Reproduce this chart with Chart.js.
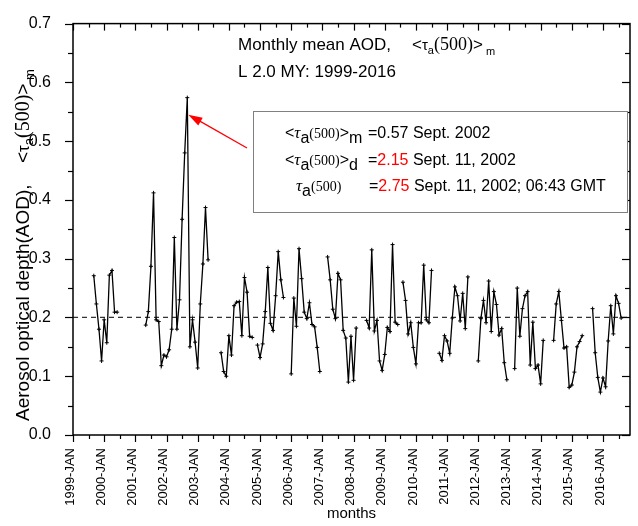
<!DOCTYPE html>
<html>
<head>
<meta charset="utf-8">
<script src="https://cdn.jsdelivr.net/npm/chart.js@4.4.0/dist/chart.umd.min.js"></script>
<style>
  html, body { margin: 0; padding: 0; background: #fff; }
</style>
</head>
<body>
<canvas id="chart1" width="638" height="526"></canvas>
<script>
// Monthly mean AOD, index 0 = 1999-JAN (null = no data that month)
const monthlyAod = [
  null, null, null, null, null, null, null, null, 0.271, 0.223, 0.180, 0.126, // 1999
  0.196, 0.157, 0.272, 0.280, 0.209, 0.209, null, null, null, null, null, null, // 2000
  null, null, null, null, 0.187, 0.210, 0.287, 0.412, 0.196, 0.193, 0.118, 0.136, // 2001
  0.133, 0.145, 0.180, 0.336, 0.180, 0.230, 0.367, 0.480, 0.574, 0.150, 0.196, 0.158, // 2002
  0.114, 0.223, 0.291, 0.387, 0.298, null, null, null, null, 0.140, 0.108, 0.100, // 2003
  0.169, 0.136, 0.220, 0.226, 0.227, 0.169, 0.268, 0.243, 0.168, 0.166, null, 0.153, // 2004
  0.132, 0.155, 0.210, 0.285, 0.190, 0.178, 0.237, 0.312, 0.264, 0.234, null, null, // 2005
  0.104, 0.233, 0.185, 0.317, 0.266, 0.209, 0.198, 0.225, 0.188, 0.184, 0.149, 0.108, // 2006
  null, null, 0.303, 0.264, 0.214, 0.198, 0.275, 0.264, 0.178, 0.165, 0.090, 0.168, // 2007
  0.093, 0.182, null, null, null, 0.195, 0.182, 0.315, 0.177, 0.195, 0.126, 0.110, // 2008
  0.137, 0.183, 0.176, 0.324, 0.192, 0.188, null, 0.260, 0.229, 0.172, 0.191, 0.149, // 2009
  0.121, 0.191, 0.191, 0.289, 0.196, 0.191, 0.280, null, null, 0.139, 0.127, 0.169, // 2010
  0.160, 0.139, 0.199, 0.252, 0.237, 0.194, 0.241, 0.181, 0.269, null, null, null, // 2011
  0.126, 0.198, 0.229, 0.191, 0.262, 0.176, 0.244, 0.222, 0.170, 0.181, 0.123, 0.094, // 2012
  null, null, 0.113, 0.250, 0.168, 0.215, 0.237, 0.244, 0.119, 0.192, 0.113, 0.119, // 2013
  0.087, 0.161, null, null, null, 0.161, 0.223, 0.244, 0.195, 0.148, 0.150, 0.081, // 2014
  0.085, 0.107, 0.150, 0.159, 0.169, null, null, null, 0.215, 0.140, 0.098, 0.073, // 2015
  0.097, 0.082, 0.160, 0.220, 0.172, 0.237, 0.224, 0.199 // 2016
];

const yearLabels = [
  '1999-JAN', '2000-JAN', '2001-JAN', '2002-JAN', '2003-JAN', '2004-JAN',
  '2005-JAN', '2006-JAN', '2007-JAN', '2008-JAN', '2009-JAN', '2010-JAN',
  '2011-JAN', '2012-JAN', '2013-JAN', '2014-JAN', '2015-JAN', '2016-JAN'
];
const yTicks = [0, 0.1, 0.2, 0.3, 0.4, 0.5, 0.6, 0.7];
const refLevel = 0.2;
const lastMonth = 214.4;

const noteValues = ['0.57', '2.15', '2.75'];
const noteTexts = [' Sept. 2002', ' Sept. 11, 2002', ' Sept. 11, 2002; 06:43 GMT'];

const SANS = '"Liberation Sans", Arial, sans-serif';
const SERIF = '"Liberation Serif", "Times New Roman", serif';

Chart.defaults.font.family = SANS;
Chart.defaults.color = '#000';

// текст з індексами: масив шматків {t, f, dy, c}
function drawRuns(ctx, x, y, parts) {
  parts.forEach(p => {
    ctx.font = p.f;
    ctx.fillStyle = p.c || '#000';
    ctx.fillText(p.t, x, y + (p.dy || 0));
    x += ctx.measureText(p.t).width;
  });
  return x;
}

function tauSmall(size, sub) {
  return [
    { t: '<', f: `${size}px ${SANS}` },
    { t: 'τ', f: `${size - 2}px ${SANS}` },
    { t: 'a', f: `${size - 6}px ${SANS}`, dy: 4 },
    { t: '(500)', f: `${size + 1}px ${SERIF}` },
    { t: '>', f: `${size}px ${SANS}` },
    { t: ' ' + sub, f: `${size - 6}px ${SANS}`, dy: 5 }
  ];
}

function tauBox(sub, brackets) {
  const p = [
    { t: 'τ', f: `italic 17px ${SERIF}` },
    { t: 'a', f: `16px ${SANS}`, dy: 5 },
    { t: '(500)', f: `14px ${SERIF}` }
  ];
  if (!brackets) return p;
  return [{ t: '<', f: `16px ${SANS}` }, ...p, { t: '>', f: `16px ${SANS}` }, { t: sub, f: `16px ${SANS}`, dy: 5 }];
}

const framePlugin = {
  id: 'frame',
  afterDatasetsDraw(chart) {
    const { ctx, chartArea: a, scales: { x, y } } = chart;
    ctx.save();
    const line = (x1, y1, x2, y2) => { ctx.beginPath(); ctx.moveTo(x1, y1); ctx.lineTo(x2, y2); ctx.stroke(); };

    // рамка і поділки
    ctx.strokeStyle = '#000';
    ctx.lineWidth = 1.5;
    ctx.strokeRect(a.left, a.top, a.width, a.height);
    ctx.lineWidth = 1.2;
    for (let m = 0; m <= lastMonth; m += 6) {
      const px = Math.round(x.getPixelForValue(m)) + 0.5;
      const len = m % 12 === 0 ? 7 : 4;
      line(px, a.bottom, px, a.bottom + len);
      line(px, a.top, px, a.top + len);
    }
    for (let k = 0; k <= 14; k++) {
      const py = Math.round(y.getPixelForValue(k * 0.05)) + 0.5;
      const len = k % 2 === 0 ? 8 : 5;
      line(a.left - len, py, a.left, py);
      line(a.right - len, py, a.right, py);
    }

    // заголовок
    ctx.textBaseline = 'alphabetic';
    ctx.textAlign = 'left';
    drawRuns(ctx, 238, 50, [{ t: 'Monthly mean AOD,', f: `17px ${SANS}` }]);
    drawRuns(ctx, 412, 50, tauSmall(17, 'm'));
    drawRuns(ctx, 238, 77, [{ t: 'L 2.0 MY: 1999-2016', f: `17px ${SANS}` }]);

    // підпис осі Y
    ctx.save();
    ctx.translate(29, 421);
    ctx.rotate(-Math.PI / 2);
    drawRuns(ctx, 0, 0, [{ t: 'Aerosol optical depth(AOD),', f: `19px ${SANS}` }]);
    drawRuns(ctx, 258, 0, tauSmall(19, 'm'));
    ctx.restore();

    // стрілка до максимуму
    let peakIdx = 0;
    monthlyAod.forEach((v, i) => { if (v !== null && v > monthlyAod[peakIdx]) peakIdx = i; });
    const tipX = x.getPixelForValue(peakIdx) + 1;
    const tipY = y.getPixelForValue(monthlyAod[peakIdx]) + 17;
    const tailX = 247, tailY = 148;
    ctx.strokeStyle = '#ff0000';
    ctx.fillStyle = '#ff0000';
    ctx.lineWidth = 1.3;
    line(tailX, tailY, tipX + 8, tipY + 4.5);
    const ang = Math.atan2(tipY - tailY, tipX - tailX);
    ctx.beginPath();
    ctx.moveTo(tipX, tipY);
    ctx.lineTo(tipX - 14 * Math.cos(ang) + 4.5 * Math.sin(ang), tipY - 14 * Math.sin(ang) - 4.5 * Math.cos(ang));
    ctx.lineTo(tipX - 14 * Math.cos(ang) - 4.5 * Math.sin(ang), tipY - 14 * Math.sin(ang) + 4.5 * Math.cos(ang));
    ctx.closePath();
    ctx.fill();

    // рамка з примітками
    ctx.fillStyle = '#fff';
    ctx.fillRect(253, 111, a.right - 255, 102);
    ctx.strokeStyle = '#808080';
    ctx.lineWidth = 1;
    ctx.strokeRect(253.5, 111.5, a.right - 256, 101);

    const rows = [
      { x: 285, y: 138, parts: tauBox('m', true) },
      { x: 285, y: 165, parts: tauBox('d', true) },
      { x: 296, y: 191, parts: tauBox('', false) }
    ];
    rows.forEach((r, i) => {
      drawRuns(ctx, r.x, r.y, r.parts);
      drawRuns(ctx, i === 2 ? 369 : 368, r.y, [
        { t: '=', f: `16px ${SANS}` },
        { t: noteValues[i], f: `16px ${SANS}`, c: i === 0 ? '#000' : '#ff0000' },
        { t: noteTexts[i], f: `16px ${SANS}` }
      ]);
    });
    ctx.restore();
  }
};

const ctx = document.getElementById('chart1').getContext('2d');
new Chart(ctx, {
  type: 'line',
  data: {
    datasets: [{
      data: monthlyAod.map((v, i) => ({ x: i, y: v })),
      borderColor: '#000',
      borderWidth: 1.3,
      pointStyle: 'cross',
      pointRadius: 2,
      pointBorderWidth: 1,
      pointBorderColor: '#000',
      spanGaps: false,
      tension: 0
    }, {
      data: [{ x: 0, y: refLevel }, { x: lastMonth, y: refLevel }],
      borderColor: '#333',
      borderWidth: 1.2,
      borderDash: [5, 4],
      pointRadius: 0
    }]
  },
  options: {
    responsive: false,
    animation: false,
    layout: { padding: { top: 19, right: 8, left: 0, bottom: 0 } },
    plugins: { legend: { display: false }, tooltip: { enabled: false } },
    scales: {
      x: {
        type: 'linear',
        min: 0,
        max: lastMonth,
        grid: { display: false },
        border: { display: false },
        afterBuildTicks: s => { s.ticks = yearLabels.map((_, i) => ({ value: i * 12 })); },
        afterFit: s => { s.height = 91; },
        ticks: {
          autoSkip: false,
          minRotation: 90,
          maxRotation: 90,
          padding: 5,
          labelOffset: -3,
          font: { size: 13 },
          callback: v => yearLabels[v / 12]
        },
        title: { display: true, text: 'months', font: { size: 15 }, padding: { top: 0, bottom: 3 } }
      },
      y: {
        min: 0,
        max: 0.7,
        grid: { display: false },
        border: { display: false },
        afterBuildTicks: s => { s.ticks = yTicks.map(v => ({ value: v })); },
        afterFit: s => { s.width = 73; },
        ticks: {
          padding: 14,
          font: { size: 16 },
          callback: v => v.toFixed(1)
        }
      }
    }
  },
  plugins: [framePlugin]
});
</script>
</body>
</html>
